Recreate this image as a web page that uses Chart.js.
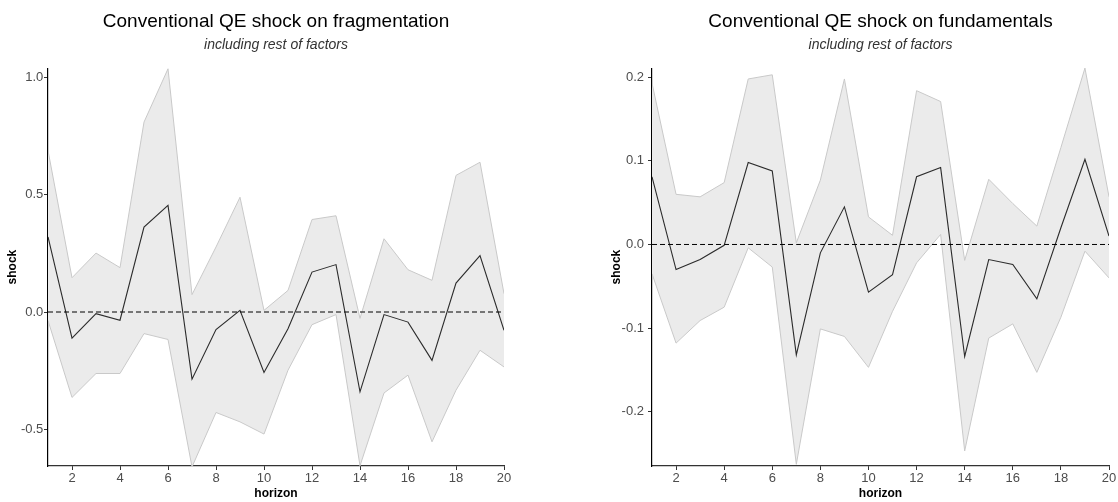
<!DOCTYPE html>
<html>
<head>
<meta charset="utf-8">
<script src="https://cdn.jsdelivr.net/npm/chart.js@4.4.1/dist/chart.umd.min.js"></script>
<style>
  body { margin: 0; background: #fff; }
  .row { display: flex; width: 1118px; height: 502px; }
  .panel { position: relative; width: 559px; height: 502px; }
</style>
</head>
<body>
<div class="row">
  <div class="panel"><canvas id="fragChart"></canvas></div>
  <div class="panel"><canvas id="fundChart"></canvas></div>
</div>
<script>
// Impulse responses over 20 horizons, mean with confidence band
const horizon = [1, 2, 3, 4, 5, 6, 7, 8, 9, 10, 11, 12, 13, 14, 15, 16, 17, 18, 19, 20];

const fragMean  = [0.320, -0.111, -0.007, -0.035, 0.362, 0.454, -0.286, -0.075, 0.007, -0.258,
                   -0.071, 0.170, 0.202, -0.340, -0.011, -0.043, -0.206, 0.123, 0.240, -0.078];
const fragUpper = [0.688, 0.146, 0.251, 0.189, 0.809, 1.036, 0.074, 0.277, 0.489, 0.007,
                   0.092, 0.394, 0.410, -0.027, 0.312, 0.180, 0.135, 0.582, 0.638, 0.078];
const fragLower = [-0.036, -0.364, -0.262, -0.262, -0.092, -0.117, -0.660, -0.428, -0.468, -0.520,
                   -0.248, -0.054, -0.011, -0.655, -0.345, -0.269, -0.553, -0.333, -0.163, -0.234];

const fundMean  = [0.081, -0.030, -0.018, -0.001, 0.098, 0.088, -0.132, -0.010, 0.045, -0.057,
                   -0.036, 0.081, 0.092, -0.134, -0.018, -0.024, -0.065, 0.020, 0.102, 0.010];
const fundUpper = [0.193, 0.060, 0.057, 0.074, 0.198, 0.203, 0.002, 0.077, 0.198, 0.033,
                   0.011, 0.184, 0.171, -0.019, 0.078, 0.049, 0.022, 0.116, 0.211, 0.057];
const fundLower = [-0.035, -0.118, -0.091, -0.075, -0.004, -0.027, -0.263, -0.101, -0.110, -0.147,
                   -0.080, -0.022, 0.012, -0.247, -0.112, -0.095, -0.153, -0.087, -0.008, -0.040];

const xTicks = [2, 4, 6, 8, 10, 12, 14, 16, 18, 20];
const fragYTicks = [-0.5, 0.0, 0.5, 1.0];
const fundYTicks = [-0.2, -0.1, 0.0, 0.1, 0.2];
const fragRange = [-0.656, 1.039];
const fundRange = [-0.265, 0.211];

Chart.defaults.font.family = "'Liberation Sans', Arial, sans-serif";

function drawPanel(id, opts) {
  const ctx = document.getElementById(id).getContext('2d');
  const toPoints = values => horizon.map((h, i) => ({ x: h, y: values[i] }));
  const setTicks = list => scale => { scale.ticks = list.map(v => ({ value: v })); };

  new Chart(ctx, {
    type: 'line',
    data: {
      datasets: [
        // dashed zero reference
        { data: horizon.map(h => ({ x: h, y: 0 })), borderColor: '#000', borderWidth: 1, borderDash: [5, 3] },
        { data: toPoints(opts.mean), borderColor: '#2b2b2b', borderWidth: 1.1 },
        { data: toPoints(opts.lower), borderColor: '#c9c9c9', borderWidth: 1 },
        { data: toPoints(opts.upper), borderColor: '#c9c9c9', borderWidth: 1, fill: '-1', backgroundColor: '#ebebeb' },
      ],
    },
    options: {
      responsive: true,
      maintainAspectRatio: false,
      animation: false,
      elements: { point: { radius: 0 }, line: { tension: 0 } },
      layout: { padding: { left: opts.padLeft, right: opts.padRight, top: 0, bottom: 0 } },
      plugins: {
        legend: { display: false },
        tooltip: { enabled: false },
        title: {
          display: true,
          text: opts.title,
          fullSize: false,
          color: '#000',
          font: { size: 19, weight: 'normal' },
          padding: { top: 10, bottom: 3.5 },
        },
        subtitle: {
          display: true,
          text: 'including rest of factors',
          fullSize: false,
          color: '#333',
          font: { size: 14, style: 'italic' },
          padding: { top: 0, bottom: 15 },
        },
      },
      scales: {
        x: {
          type: 'linear',
          min: 1,
          max: 20,
          afterBuildTicks: setTicks(xTicks),
          afterFit: scale => { scale.height = 36; },
          border: { color: '#333', width: 1.2 },
          grid: { drawOnChartArea: false, drawTicks: true, tickLength: 4, color: '#333' },
          ticks: { color: '#4d4d4d', font: { size: 13 }, padding: 1, maxRotation: 0 },
          title: { display: true, text: 'horizon', color: '#000', font: { size: 12, weight: 'bold' }, padding: { top: 1.3, bottom: 1.3 } },
        },
        y: {
          min: opts.range[0],
          max: opts.range[1],
          afterBuildTicks: setTicks(opts.yTicks),
          afterFit: scale => { scale.width = opts.axisWidth; },
          border: { color: '#000', width: 1.2 },
          grid: { drawOnChartArea: false, drawTicks: true, tickLength: 4, color: '#333' },
          ticks: { color: '#4d4d4d', font: { size: 13 }, padding: opts.tickPad, callback: v => v.toFixed(1) },
          title: { display: true, text: 'shock', color: '#000', font: { size: 12, weight: 'bold' }, padding: { top: 5.3, bottom: 5.3 } },
        },
      },
    },
  });
}

drawPanel('fragChart', {
  title: 'Conventional QE shock on fragmentation',
  mean: fragMean, upper: fragUpper, lower: fragLower,
  range: fragRange, yTicks: fragYTicks,
  padLeft: 0, padRight: 55, axisWidth: 48, tickPad: 0.7,
});

drawPanel('fundChart', {
  title: 'Conventional QE shock on fundamentals',
  mean: fundMean, upper: fundUpper, lower: fundLower,
  range: fundRange, yTicks: fundYTicks,
  padLeft: 45.5, padRight: 9, axisWidth: 47.5, tickPad: 4,
});
</script>
</body>
</html>
